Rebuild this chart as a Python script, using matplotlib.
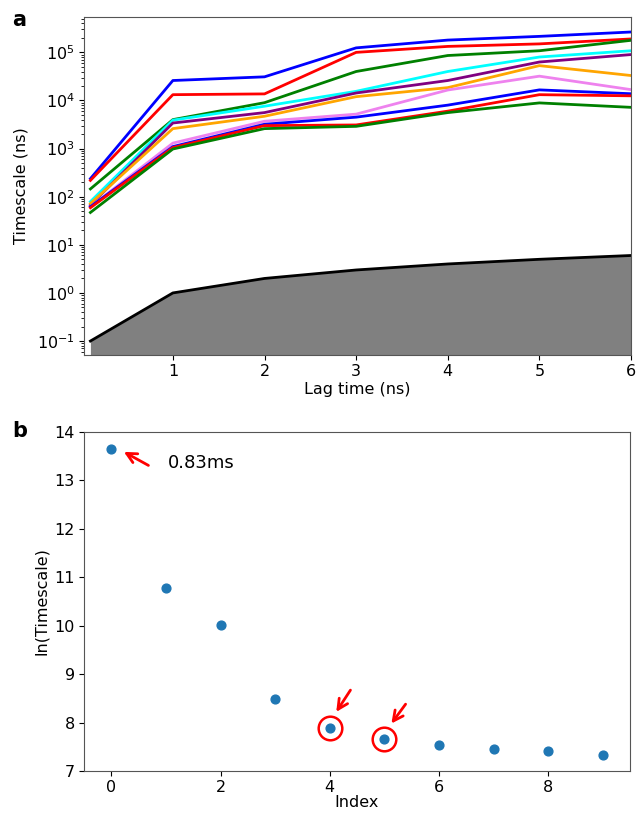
import matplotlib
matplotlib.use("Agg")
import matplotlib.pyplot as plt
import numpy as np

# ---- Data ----
lag_times = [0.1, 1, 2, 3, 4, 5, 6]
line_colors = ["blue", "red", "green", "cyan", "purple", "orange", "violet", "blue", "red", "green"]
timescales = [
    [237, 2.6e4, 3.1e4, 1.24e5, 1.8e5, 2.15e5, 2.65e5],
    [218, 1.32e4, 1.37e4, 1.0e5, 1.33e5, 1.5e5, 1.9e5],
    [145, 4.0e3, 9.0e3, 4.0e4, 8.6e4, 1.08e5, 1.78e5],
    [79, 3.9e3, 7.6e3, 1.55e4, 4.0e4, 8.0e4, 1.08e5],
    [67, 3.4e3, 5.6e3, 1.43e4, 2.6e4, 6.3e4, 9.0e4],
    [72, 2.6e3, 4.7e3, 1.2e4, 1.85e4, 5.3e4, 3.3e4],
    [62, 1.3e3, 3.7e3, 5.2e3, 1.65e4, 3.2e4, 1.68e4],
    [62, 1.1e3, 3.2e3, 4.5e3, 8.0e3, 1.66e4, 1.38e4],
    [59, 1.05e3, 3.0e3, 3.1e3, 6.0e3, 1.32e4, 1.25e4],
    [47, 980, 2.6e3, 2.9e3, 5.6e3, 8.9e3, 7.2e3],
]
x_ticks_a = [1, 2, 3, 4, 5, 6]

index = list(range(10))
ln_timescale = [13.64, 10.77, 10.02, 8.49, 7.89, 7.66, 7.54, 7.45, 7.41, 7.34]
highlighted = [4, 5]
annot_text = "0.83ms"

plt.rcParams["font.family"] = ["DejaVu Sans"]
plt.rcParams["font.size"] = 11.5
plt.rcParams["xtick.major.pad"] = 3
plt.rcParams["ytick.major.pad"] = 3

fig = plt.figure(figsize=(6.37, 8.15), dpi=100)

# ---- Panel a ----
axa = fig.add_axes([84 / 637, 1 - 355 / 815, (631 - 84) / 637, (355 - 17) / 815])
ymin, ymax = 10 ** -1.29, 10 ** 5.735
for vals, c in zip(timescales, line_colors):
    axa.plot(lag_times, vals, color=c, lw=2)
axa.fill_between(lag_times, ymin, lag_times, color="gray", lw=0)
axa.plot(lag_times, lag_times, color="black", lw=2)
axa.set_yscale("log")
axa.set_ylim(ymin, ymax)
axa.set_xlim(0.03, 6)
axa.set_xticks(x_ticks_a)
axa.set_xlabel("Lag time (ns)", labelpad=2)
axa.set_ylabel("Timescale (ns)", labelpad=6)
for s in axa.spines.values():
    s.set_color("#555555")
fig.text(12 / 637, 1 - 20 / 815, "a", fontsize=15, fontweight="bold", va="center", ha="left")

# ---- Panel b ----
axb = fig.add_axes([84 / 637, 1 - 771 / 815, (630 - 84) / 637, (771 - 432) / 815])
axb.scatter(index, ln_timescale, color="#1f77b4", s=40, zorder=3)
axb.plot([index[i] for i in highlighted], [ln_timescale[i] for i in highlighted],
         linestyle="none", marker="o", markersize=17, markerfacecolor="none",
         markeredgecolor="red", markeredgewidth=1.8)
axb.set_xlim(-0.5, 9.5)
axb.set_ylim(7, 14)
axb.set_xticks([0, 2, 4, 6, 8])
axb.set_yticks([7, 8, 9, 10, 11, 12, 13, 14])
axb.set_xlabel("Index", labelpad=0)
axb.set_ylabel("ln(Timescale)")
for s in axb.spines.values():
    s.set_color("#555555")

arrow_kw = dict(arrowstyle="->", color="red", lw=2, mutation_scale=18, shrinkA=0, shrinkB=0)
axb.annotate("", xy=(0.23, 13.59), xytext=(0.68, 13.31), arrowprops=arrow_kw)
axb.text(1.04, 13.36, annot_text, fontsize=13, va="center", ha="left")
axb.annotate("", xy=(4.12, 8.22), xytext=(4.38, 8.67), arrowprops=arrow_kw)
axb.annotate("", xy=(5.13, 7.98), xytext=(5.39, 8.38), arrowprops=arrow_kw)

fig.text(12 / 637, 1 - 431 / 815, "b", fontsize=15, fontweight="bold", va="center", ha="left")

fig.savefig("out.png", dpi=100)
